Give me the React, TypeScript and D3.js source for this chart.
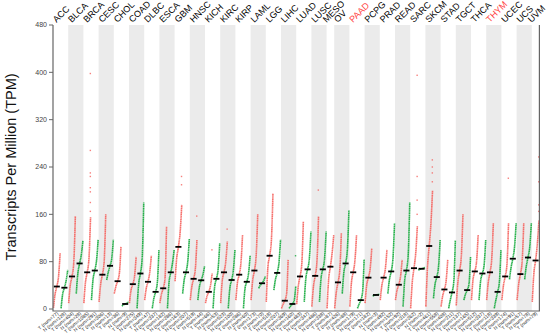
import React from 'react'
import * as d3 from 'd3'

// cancer types, in plot order
const cancers = [
  'ACC', 'BLCA', 'BRCA', 'CESC', 'CHOL', 'COAD', 'DLBC', 'ESCA', 'GBM', 'HNSC', 'KICH',
  'KIRC', 'KIRP', 'LAML', 'LGG', 'LIHC', 'LUAD', 'LUSC', 'MESO', 'OV', 'PAAD', 'PCPG',
  'PRAD', 'READ', 'SARC', 'SKCM', 'STAD', 'TGCT', 'THCA', 'THYM', 'UCEC', 'UCS', 'UVM',
]
const highlighted = ['PAAD', 'THYM']
const tumorNum = [77, 404, 1085, 306, 36, 275, 47, 182, 163, 519, 66, 523, 286, 173, 518, 369, 483, 486, 87, 426, 179, 182, 492, 92, 262, 461, 408, 137, 512, 118, 174, 57, 79]
// null = no normal group
const normalNum = [128, 28, 291, 13, 9, 349, 337, 286, 207, 44, 53, 100, 60, 70, 207, 160, 347, 338, null, 88, 171, 3, 152, 318, 2, 558, 211, 165, 337, 339, 91, 78, null]

// per group (T then N for each cancer) distribution, TPM
const groupLo = [2, 1, 10, 26, 10, 15, 12, 49, 26, 5, 10, 1, 15, 1, 10, 1, 47, 26, 15, 15, 10, 1, 10, 1, 15, 1, 15, 35, 12, 32, 1, 1, 8, 12, 4, 12, 1, 1, 26, 4, 1, 10, 22, 15, 26, 15, 4, 1, 66, 4, 18, 4, 1, 6, 15, 15, 15, 15, 1, 15, 50, 15, 50, 12]
const groupQ1 = [25, 25, 40, 60, 45, 50, 42, 62, 38, 7, 32, 42, 35, 18, 25, 45, 85, 50, 38, 38, 22, 38, 48, 35, 45, 35, 48, 40, 70, 50, 8, 5, 38, 52, 38, 52, 50, 28, 62, 45, 8, 40, 23, 40, 50, 32, 48, 45, 67, 70, 42, 22, 15, 45, 25, 50, 48, 45, 15, 40, 70, 42, 72, 60]
const groupMed = [38, 36, 55, 77, 62, 65, 58, 73, 47, 8.5, 42, 60, 46, 29, 35, 62, 105, 62, 51, 48.5, 29, 51, 62, 49, 58, 46, 65, 43.5, 90, 61, 14, 8.5, 55, 67, 56, 67, 71.5, 45, 77, 62, 15, 53, 23.7, 53, 63.5, 41, 65, 69, 68, 106.5, 54, 33, 28, 65, 32, 63.5, 60, 62, 29, 55, 85, 59, 87, 82]
const groupQ3 = [55, 48, 78, 92, 85, 82, 80, 85, 60, 10, 55, 85, 62, 45, 50, 78, 130, 80, 68, 58, 40, 68, 80, 65, 78, 60, 90, 48, 115, 78, 25, 14, 75, 85, 80, 85, 95, 65, 100, 82, 28, 68, 24.5, 68, 85, 55, 90, 95, 69, 145, 72, 48, 45, 90, 42, 80, 75, 85, 45, 75, 105, 80, 105, 110]
const groupHi = [95, 66, 157, 116, 155, 117, 160, 117, 105, 12, 88, 180, 90, 100, 139, 100, 176, 119, 117, 72, 60, 111, 114, 100, 125, 90, 160, 55, 195, 117, 83, 38, 148, 131, 157, 131, 125, 128, 167, 125, 84, 102, 25, 100, 145, 83, 180, 140, 70, 200, 117, 83, 116, 160, 88, 125, 117, 145, 100, 145, 145, 145, 145, 150]
// scattered high points: [group index, TPM]
const outliers: [number, number][] = [
  [4, 165], [4, 180], [4, 198], [4, 205], [4, 224], [4, 230], [4, 268], [4, 398],
  [16, 210], [16, 224], [18, 157], [20, 100], [22, 135], [31, 90], [34, 201],
  [47, 160], [47, 184], [47, 224], [47, 395], [49, 215], [49, 230], [49, 240], [49, 252],
  [59, 221], [63, 165], [63, 176], [63, 215], [63, 257],
]
const yTicks = [0, 80, 160, 240, 320, 400, 480]

const RED = '#f5605c'
const GREEN = '#11a838'
const FONT = 'Arial, "Liberation Sans", sans-serif'

type Group = { id: number; cancer: number; kind: 'T' | 'N'; num: number }

export default function App(): JSX.Element {
  const W = 550
  const H = 335
  const left = 53
  const right = 539.4
  const top = 25
  const bottom = 309

  const groups: Group[] = []
  cancers.forEach((_c, i) => {
    groups.push({ id: groups.length, cancer: i, kind: 'T', num: tumorNum[i] })
    if (normalNum[i] !== null) groups.push({ id: groups.length, cancer: i, kind: 'N', num: normalNum[i] as number })
  })

  const x = d3.scaleBand<number>().domain(groups.map((g) => g.id)).range([left, right]).padding(0)
  const bw = x.bandwidth()
  const y = d3.scaleLinear().domain([0, 480]).range([bottom, top])

  const quantPos = [0.06, 0.27, 0.5, 0.73, 0.94]
  const lineFn = d3
    .line<[number, number]>()
    .x((d) => d[0])
    .y((d) => y(d[1]))
    .curve(d3.curveMonotoneX)

  const bands = cancers.map((c, i) => {
    const gs = groups.filter((g) => g.cancer === i)
    const x0 = x(gs[0].id) as number
    const x1 = (x(gs[gs.length - 1].id) as number) + bw
    return { c, i, x0, x1 }
  })

  return (
    <svg width={W} height={H} style={{ position: 'absolute', left: 0, top: 0 }} fontFamily={FONT}>
      <rect width={W} height={H} fill="#fff" />
      {bands.map((b) =>
        b.i % 2 === 1 ? <rect key={b.c} x={b.x0} y={top} width={b.x1 - b.x0} height={bottom + 2 - top} fill="#ebebeb" /> : null
      )}

      {groups.map((g) => {
        const x0 = x(g.id) as number
        const vals = [groupLo[g.id], groupQ1[g.id], groupMed[g.id], groupQ3[g.id], groupHi[g.id]]
        const pts = vals.map((v, k) => [x0 + quantPos[k] * bw, v] as [number, number])
        const col = g.kind === 'T' ? RED : GREEN
        return (
          <g key={g.id}>
            <path d={lineFn(pts) ?? ''} fill="none" stroke={col} strokeWidth={1.6} strokeDasharray="1.5 0.35" opacity={0.9} />
            {outliers
              .filter((o) => o[0] === g.id)
              .map((o, k) => (
                <rect key={k} x={x0 + bw * 0.82} y={y(o[1]) - 0.7} width={1.4} height={1.4} fill={col} opacity={0.8} />
              ))}
          </g>
        )
      })}

      {groups.map((g) => {
        const x0 = x(g.id) as number
        return (
          <line
            key={'m' + g.id}
            x1={x0 + bw * 0.1}
            x2={x0 + bw * 0.9}
            y1={y(groupMed[g.id])}
            y2={y(groupMed[g.id])}
            stroke="#000"
            strokeWidth={1.8}
          />
        )
      })}

      {/* frame */}
      <path d={`M${left},${top}V${bottom + 2}H${right}V${top}`} fill="none" stroke="#666" strokeWidth={1.2} />

      {yTicks.map((t) => (
        <g key={t} transform={`translate(${left},${y(t)})`}>
          <line x1={-4} x2={0} stroke="#666" />
          <text x={-6} dy="0.32em" textAnchor="end" fontSize={7} fill="#444">
            {t}
          </text>
        </g>
      ))}

      <text
        transform={`translate(16,${(top + bottom) / 2}) rotate(-90)`}
        textAnchor="middle"
        fontSize={14.5}
        fill="#111"
      >
        Transcripts Per Million (TPM)
      </text>

      {bands.map((b) => {
        const cx = (b.x0 + b.x1) / 2
        return (
          <text
            key={'l' + b.c}
            transform={`translate(${cx - 4},${top - 2}) rotate(-45)`}
            fontSize={9}
            fill={highlighted.includes(b.c) ? '#ff4040' : '#000'}
          >
            {b.c}
          </text>
        )
      })}

      {groups.map((g) => {
        const cx = (x(g.id) as number) + bw / 2
        return (
          <text
            key={'b' + g.id}
            transform={`translate(${cx + 2},${bottom + 5}) rotate(-40)`}
            textAnchor="end"
            fontSize={4.8}
            fill="#222"
          >
            {`${g.kind} (num=${g.num})`}
          </text>
        )
      })}
    </svg>
  )
}
